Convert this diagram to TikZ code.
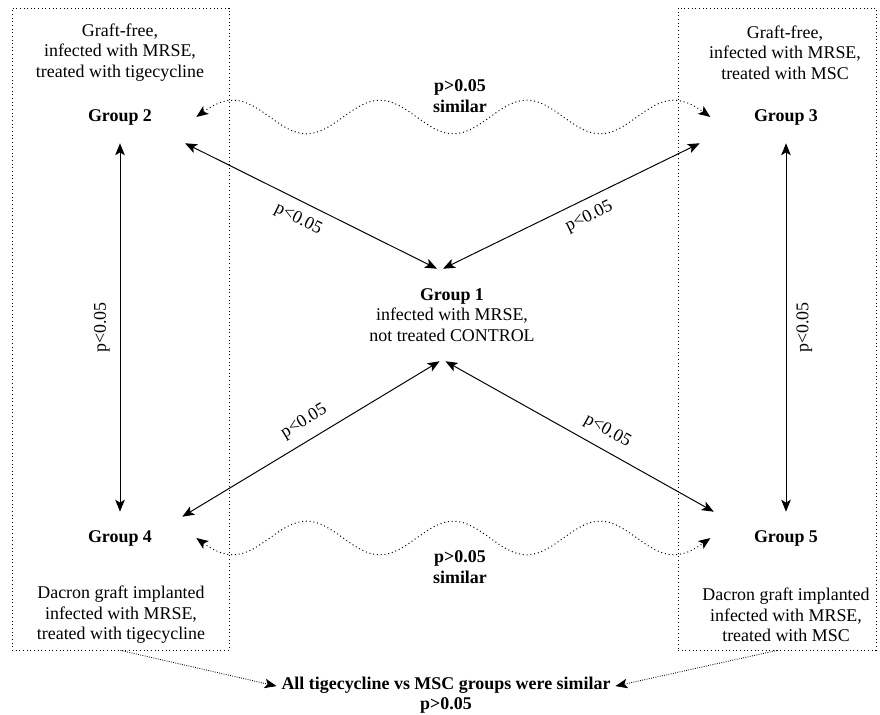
\documentclass[tikz,border=0pt]{standalone}
\usepackage{fontspec}
\setmainfont{Liberation Serif}
\usepackage{tikz}
\usetikzlibrary{arrows.meta}

\begin{document}
\begin{tikzpicture}[
  font=\fontsize{12.75}{14.6}\selectfont,
  >={Stealth[length=8.5pt,width=6.8pt,inset=2pt]},
  grp/.style={font=\fontsize{12.75}{14.6}\selectfont\bfseries, minimum width=3.8cm, minimum height=1.3cm, inner sep=0pt},
  desc/.style={align=center},
  grpbox/.style={draw, dotted, line width=0.6pt, inner sep=0pt},
  rel/.style={<->, line width=0.7pt},
  ptag/.style={sloped, inner sep=1pt},
  simwave/.style={<->, dotted, line width=0.7pt},
  summ/.style={->, densely dotted, line width=0.6pt}]
  \useasboundingbox (0,0) rectangle (22,17.875);
  \node[grpbox, minimum width=5.425cm, minimum height=16.05cm] (lbox) at (3.0125,9.65) {};
  \node[grpbox, minimum width=4.95cm, minimum height=16.05cm] (rbox) at (19.425,9.65) {};
  \node[desc] (d2) at (3.0,16.5625) {Graft-free,\\infected with MRSE,\\treated with tigecycline};
  \node[desc] (d3) at (19.625,16.5625) {Graft-free,\\infected with MRSE,\\treated with MSC};
  \node[desc] (d4) at (3.025,2.5) {Dacron graft implanted\\infected with MRSE,\\treated with tigecycline};
  \node[desc] (d5) at (19.65,2.5) {Dacron graft implanted\\infected with MRSE,\\treated with MSC};
  \node[grp] (g2) at (3.0,14.95) {Group 2};
  \node[grp] (g3) at (19.65,14.95) {Group 3};
  \node[grp] (g4) at (3.0,4.425) {Group 4};
  \node[grp] (g5) at (19.65,4.425) {Group 5};
  \node[desc, minimum width=5cm, minimum height=2.3cm, inner sep=0pt] (g1) at (11.3,10.0)
    {\textbf{Group 1}\\infected with MRSE,\\not treated CONTROL};
  \node[desc, font=\fontsize{12.75}{14.6}\selectfont\bfseries] (simtop) at (11.5,15.475) {p>0.05\\similar};
  \node[desc, font=\fontsize{12.75}{14.6}\selectfont\bfseries] (simbot) at (11.5,3.7) {p>0.05\\similar};
  \node[desc, font=\fontsize{12.75}{14.6}\selectfont\bfseries] (allsim) at (11.15,0.5)
    {All tigecycline vs MSC groups were similar\\p>0.05};
  \draw[rel] (g2.-22) -- node[ptag, below=5.5pt, pos=0.48] {p<0.05} (g1.108);
  \draw[rel] ([xshift=-0.25cm]g3.south west) -- node[ptag, below=5.5pt, pos=0.46] {p<0.05} (g1.101);
  \draw[rel] ([shift={(-0.35,-0.125)}]g4.north east) -- node[ptag, above=6pt, pos=0.51] {p<0.05} (g1.255);
  \draw[rel] (g5.160) -- node[ptag, above=6pt, pos=0.43] {p<0.05} (g1.262);
  \draw[rel] (g4.north) -- node[ptag, above=6pt] {p<0.05} (g2.south);
  \draw[rel] (g5.north) -- node[ptag, below=6pt] {p<0.05} (g3.south);
  \draw[simwave] (g2.east)
    \foreach \k in {1,2,3} { sin ++(0.918,0.42) cos ++(0.918,-0.42) sin ++(0.918,-0.42) cos ++(0.918,0.42) }
    sin ++(0.918,0.42) cos ++(0.918,-0.42);
  \draw[simwave] (g4.east)
    \foreach \k in {1,2,3} { sin ++(0.918,-0.42) cos ++(0.918,0.42) sin ++(0.918,0.42) cos ++(0.918,-0.42) }
    sin ++(0.918,-0.42) cos ++(0.918,0.42);
  \draw[summ] (lbox.south) -- (allsim.177);
  \draw[summ] (rbox.south) -- (allsim.3);
\end{tikzpicture}
\end{document}
